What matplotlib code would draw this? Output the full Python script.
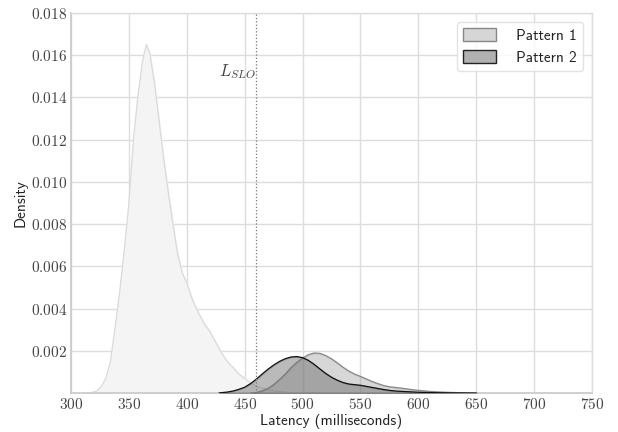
import numpy as np
import matplotlib
matplotlib.use("Agg")
import matplotlib.pyplot as plt
from matplotlib.patches import Patch
from matplotlib.ticker import FuncFormatter

# Density curves (latency in ms, density)
base_x = [313, 318, 322, 326, 330, 334, 338, 342, 346, 350, 354, 358, 362, 365,
          368, 372, 376, 380, 384, 388, 392, 396, 400, 405, 410, 415, 420, 425,
          430, 435, 440, 445, 450, 455, 460, 465, 470, 475, 480, 490, 500]
base_y = [0.0, 0.00003, 0.0001, 0.0003, 0.0007, 0.0015, 0.0031, 0.0048, 0.0068,
          0.0090, 0.0121, 0.0142, 0.0158, 0.0165, 0.0161, 0.0147, 0.0129, 0.0111,
          0.0095, 0.0080, 0.0066, 0.0057, 0.0052, 0.0044, 0.0038, 0.0033, 0.0029,
          0.0024, 0.0019, 0.0015, 0.0012, 0.0009, 0.0007, 0.00047, 0.00032,
          0.00024, 0.00018, 0.00012, 0.00007, 0.00003, 0.0]

p1_x = [455, 460, 465, 470, 475, 480, 485, 490, 495, 500, 505, 510, 515, 520,
        525, 530, 535, 540, 545, 550, 555, 560, 565, 570, 575, 580, 585, 590,
        595, 600, 610, 620, 635, 650]
p1_y = [0.0, 0.00003, 0.0001, 0.00022, 0.0004, 0.00064, 0.0009, 0.0012, 0.00145,
        0.00166, 0.00182, 0.0019, 0.00188, 0.00178, 0.00162, 0.00143, 0.00122,
        0.00104, 0.0009, 0.00079, 0.00067, 0.00055, 0.00045, 0.00036, 0.0003,
        0.00027, 0.00024, 0.0002, 0.00016, 0.00013, 0.00008, 0.00005, 0.00002, 0.0]

p2_x = [428, 435, 440, 445, 450, 455, 460, 465, 470, 475, 480, 485, 490, 495,
        500, 505, 510, 515, 520, 525, 530, 535, 540, 545, 550, 555, 560, 565,
        570, 575, 580, 590, 600, 615, 630, 650]
p2_y = [0.00001, 0.00005, 0.0001, 0.00018, 0.00028, 0.00045, 0.00066, 0.0009,
        0.00113, 0.00133, 0.0015, 0.00163, 0.00171, 0.00173, 0.00168, 0.00155,
        0.00136, 0.00114, 0.00093, 0.00075, 0.00061, 0.0005, 0.00043, 0.0004,
        0.00037, 0.00032, 0.00027, 0.00022, 0.00017, 0.00013, 0.0001, 0.00007,
        0.00004, 0.00002, 0.00001, 0.0]

slo = 460
xticks = [300, 350, 400, 450, 500, 550, 600, 650, 700, 750]
yticks = [0.002, 0.004, 0.006, 0.008, 0.010, 0.012, 0.014, 0.016, 0.018]

plt.rcParams['mathtext.fontset'] = 'cm'
plt.rcParams['axes.unicode_minus'] = False

fig = plt.figure(figsize=(6.18, 4.32), dpi=100)
ax = fig.add_axes([0.115, 0.090, 0.843, 0.880])

ax.fill_between(base_x, base_y, color='#f4f4f4', zorder=2)
ax.plot(base_x, base_y, color='#dadada', lw=0.9, zorder=2)

ax.fill_between(p1_x, p1_y, color=(0.55, 0.55, 0.55, 0.34), zorder=3)
ax.plot(p1_x, p1_y, color='#8a8a8a', lw=0.9, zorder=3)

ax.fill_between(p2_x, p2_y, color=(0.4, 0.4, 0.4, 0.45), zorder=4)
ax.plot(p2_x, p2_y, color='#111111', lw=0.9, zorder=4)

ax.axvline(slo, color='#777777', ls=':', lw=0.9, zorder=5)
ax.text(slo, 0.0148, r'$L_{SLO}$', ha='right', va='bottom', fontsize=12,
        color='#444444')

ax.set_xlim(300, 750)
ax.set_ylim(0, 0.018)
ax.set_xticks(xticks)
ax.set_yticks(yticks)
ax.xaxis.set_major_formatter(FuncFormatter(lambda v, p: r'$%d$' % v))
ax.yaxis.set_major_formatter(FuncFormatter(lambda v, p: r'$%.3f$' % v))
ax.tick_params(length=0, labelsize=11, labelcolor='#444444', pad=3)

ax.grid(True, color='#dddddd', lw=1.0, zorder=0)
ax.set_axisbelow(True)
for side in ['top', 'right']:
    ax.spines[side].set_color('#dddddd')
    ax.spines[side].set_linewidth(1.0)
for side in ['left', 'bottom']:
    ax.spines[side].set_color('#cccccc')
    ax.spines[side].set_linewidth(1.3)

ax.set_xlabel('Latency (milliseconds)', fontfamily='cmss10', fontsize=11,
              color='#222222', labelpad=1)
ax.set_ylabel('Density', fontfamily='cmss10', fontsize=11, color='#222222',
              labelpad=2)

handles = [Patch(facecolor='#d6d6d6', edgecolor='#888888', label='Pattern 1'),
           Patch(facecolor='#b0b0b0', edgecolor='#222222', label='Pattern 2')]
leg = ax.legend(handles=handles, loc='upper right', prop={'family': 'cmss10', 'size': 11},
                frameon=True, fancybox=True, edgecolor='#dddddd', framealpha=0.8,
                handlelength=2.2, handleheight=0.9, handletextpad=1.3,
                borderaxespad=0.6)
for t in leg.get_texts():
    t.set_color('#222222')

fig.savefig('out.png', dpi=100)
